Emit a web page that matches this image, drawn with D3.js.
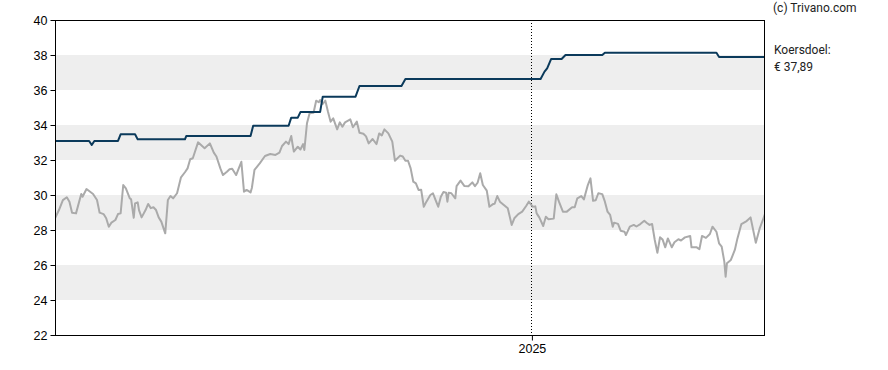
<!DOCTYPE html>
<html>
<head>
<meta charset="utf-8">
<script src="https://cdn.jsdelivr.net/npm/d3@7/dist/d3.min.js"></script>
<style>
html,body{margin:0;padding:0;background:#fff;}
svg{display:block;}
</style>
</head>
<body>
<svg id="chart" width="888" height="370"></svg>
<script>
// ---- data ----
const priceDates = ["2024-01-04","2024-01-07","2024-01-10","2024-01-13","2024-01-15","2024-01-17","2024-01-20","2024-01-24","2024-01-25","2024-01-28",
"2024-02-02","2024-02-05","2024-02-07","2024-02-10","2024-02-12","2024-02-14","2024-02-16","2024-02-19","2024-02-21","2024-02-23","2024-02-25","2024-02-27",
"2024-03-01","2024-03-02","2024-03-04","2024-03-05","2024-03-07","2024-03-08","2024-03-10","2024-03-13","2024-03-15","2024-03-17","2024-03-19","2024-03-21","2024-03-23","2024-03-25","2024-03-28","2024-03-30",
"2024-04-01","2024-04-03","2024-04-06","2024-04-09","2024-04-12","2024-04-14","2024-04-16","2024-04-18","2024-04-22","2024-04-27",
"2024-05-01","2024-05-04","2024-05-06","2024-05-09","2024-05-11","2024-05-14","2024-05-16","2024-05-18","2024-05-21","2024-05-24","2024-05-25","2024-05-27","2024-05-29",
"2024-06-01","2024-06-02","2024-06-04","2024-06-08","2024-06-12","2024-06-16","2024-06-20","2024-06-23","2024-06-25","2024-06-28","2024-06-30",
"2024-07-02","2024-07-03","2024-07-04","2024-07-07","2024-07-09","2024-07-11","2024-07-12","2024-07-14","2024-07-16","2024-07-19","2024-07-21","2024-07-23","2024-07-24","2024-07-26","2024-07-28","2024-07-30",
"2024-08-01","2024-08-03","2024-08-06","2024-08-08","2024-08-10","2024-08-12","2024-08-16","2024-08-18","2024-08-21","2024-08-23","2024-08-26","2024-08-28","2024-08-30",
"2024-09-02","2024-09-05","2024-09-07","2024-09-09","2024-09-11","2024-09-14","2024-09-17","2024-09-19","2024-09-23","2024-09-25","2024-09-27","2024-09-29",
"2024-10-01","2024-10-03","2024-10-05","2024-10-07","2024-10-09","2024-10-11","2024-10-13","2024-10-16","2024-10-18","2024-10-20","2024-10-22","2024-10-24","2024-10-26","2024-10-28","2024-10-29","2024-10-30",
"2024-11-01","2024-11-04","2024-11-05","2024-11-08","2024-11-11","2024-11-14","2024-11-17","2024-11-19","2024-11-21","2024-11-23","2024-11-25","2024-11-28","2024-11-30",
"2024-12-03","2024-12-04","2024-12-06","2024-12-08","2024-12-11","2024-12-14","2024-12-17","2024-12-19","2024-12-22","2024-12-25","2024-12-28","2024-12-30",
"2025-01-02","2025-01-04","2025-01-05","2025-01-07","2025-01-10","2025-01-12","2025-01-14","2025-01-18","2025-01-20","2025-01-22","2025-01-25","2025-01-28",
"2025-02-01","2025-02-03","2025-02-05","2025-02-08","2025-02-10","2025-02-13","2025-02-15","2025-02-17","2025-02-19","2025-02-21","2025-02-24","2025-02-26","2025-02-28",
"2025-03-02","2025-03-04","2025-03-05","2025-03-08","2025-03-10","2025-03-13","2025-03-14","2025-03-17","2025-03-20","2025-03-22","2025-03-25","2025-03-28","2025-03-30",
"2025-04-01","2025-04-03","2025-04-05","2025-04-07","2025-04-09","2025-04-11","2025-04-13","2025-04-15","2025-04-18","2025-04-20","2025-04-23","2025-04-25","2025-04-28",
"2025-05-02","2025-05-03","2025-05-07","2025-05-09","2025-05-11","2025-05-14","2025-05-17","2025-05-19","2025-05-22","2025-05-24","2025-05-26","2025-05-28","2025-05-29","2025-05-30",
"2025-06-02","2025-06-05","2025-06-07","2025-06-10","2025-06-14","2025-06-17","2025-06-21","2025-06-24","2025-06-28"];
const priceValues = [28.67,29.14,29.71,29.87,29.62,28.99,28.95,30.06,29.9,30.34,
30.06,29.71,28.99,28.91,28.67,28.19,28.42,28.57,28.91,28.95,30.57,30.38,
29.81,29.75,28.70,29.52,29.58,29.14,28.72,29.14,29.49,29.25,29.3,29.14,28.72,28.48,27.81,29.71,
29.94,29.81,30.1,31.01,31.3,31.52,32.04,32.1,33.01,32.67,
32.95,32.42,32.2,31.52,31.14,31.33,31.47,31.5,31.14,31.71,31.9,30.19,30.29,
30.15,30.4,31.43,31.81,32.23,32.34,32.29,32.42,32.8,33.05,32.91,
33.37,32.9,32.48,32.76,32.6,32.91,32.57,34.1,34.67,34.7,35.39,35.3,35.43,35.2,35.39,34.76,
34.19,34.38,33.75,34.15,33.9,34.15,34.32,33.87,34.19,33.56,33.5,33.35,32.95,
33.2,32.91,33.52,33.4,33.75,33.52,33.05,31.96,32.25,32.2,31.96,31.96,
31.52,30.76,30.67,30.29,30.3,29.33,29.62,30.0,30.1,29.71,29.33,29.9,30.17,30.13,29.62,30.13,
30.1,29.81,30.51,30.82,30.51,30.5,30.72,30.51,30.7,31.24,30.57,30.25,29.33,
29.49,29.5,29.94,29.62,29.43,29.24,28.29,28.67,28.91,29.05,29.37,29.62,
29.33,29.35,28.95,28.72,28.23,28.76,28.61,28.65,30.04,29.62,29.05,29.05,
29.3,29.3,29.81,29.94,29.75,30.57,30.95,29.67,29.7,30.1,30.05,29.62,29.05,
28.86,28.19,28.42,28.35,27.96,27.9,27.71,28.19,28.29,28.2,28.34,28.53,28.4,
28.29,28.34,27.43,26.7,27.58,27.45,27.01,27.52,27.01,27.3,27.47,27.4,27.58,
27.66,27.01,27.01,26.9,27.66,27.55,27.77,28.19,27.9,27.24,27.05,26.19,25.33,26.1,
26.29,26.86,27.52,28.34,28.51,28.72,27.27,28.1,28.91];

const targetDates = ["2024-01-04","2024-01-30","2024-02-01","2024-02-03","2024-02-21","2024-02-23","2024-03-05","2024-03-07","2024-04-12","2024-04-13",
"2024-06-01","2024-06-03","2024-06-30","2024-07-02","2024-07-07","2024-07-09","2024-07-24","2024-07-26","2024-08-20","2024-08-23","2024-09-24","2024-09-27",
"2025-01-08","2025-01-11","2025-01-13","2025-01-16","2025-01-24","2025-01-27","2025-02-24","2025-02-26","2025-05-22","2025-05-24","2025-06-28"];
const targetValues = [33.09,33.09,32.86,33.09,33.09,33.47,33.47,33.18,33.18,33.37,
33.37,33.96,33.96,34.42,34.42,34.74,34.74,35.62,35.62,36.23,36.23,36.63,
36.63,37.05,37.24,37.77,37.77,38.0,38.0,38.13,38.13,37.89,37.89];

const yTicks = [22,24,26,28,30,32,34,36,38,40];
const bandRanges = [[36,38],[32,34],[28,30],[24,26]];
const xTickDates = ["2025-01-01"];
const xTickLabels = ["2025"];
const dateRange = ["2024-01-04","2025-06-28"];
const copyright = "(c) Trivano.com";
const targetLabel = "Koersdoel:";
const targetText = "€ 37,89";

// ---- chart ----
const parse = d3.timeParse("%Y-%m-%d");
const svg = d3.select("#chart");
const m = {left:55, top:20, right:765, bottom:335};

const x = d3.scaleTime().domain(dateRange.map(parse)).range([m.left, m.right]);
const y = d3.scaleLinear().domain([22,40]).range([m.bottom, m.top]);

svg.append("defs").append("clipPath").attr("id","plot")
  .append("rect").attr("x",m.left).attr("y",m.top).attr("width",m.right-m.left).attr("height",m.bottom-m.top);

// bands
svg.append("g").selectAll("rect").data(bandRanges).join("rect")
  .attr("x", m.left).attr("width", m.right-m.left)
  .attr("y", d => y(d[1])).attr("height", d => y(d[0]) - y(d[1]))
  .attr("fill", "#eeeeee");

// dotted year line
svg.append("g").selectAll("line").data(xTickDates).join("line")
  .attr("x1", d => Math.round(x(parse(d)))+0.5).attr("x2", d => Math.round(x(parse(d)))+0.5)
  .attr("y1", m.top).attr("y2", m.bottom)
  .attr("stroke","#000").attr("stroke-width",1).attr("stroke-dasharray","1,2");

const g = svg.append("g").attr("clip-path","url(#plot)");

const price = priceDates.map((d,i) => ({d: parse(d), v: priceValues[i]}));
const target = targetDates.map((d,i) => ({d: parse(d), v: targetValues[i]}));
const line = d3.line().x(p => x(p.d)).y(p => y(p.v));

g.append("path").datum(price).attr("d", line)
  .attr("fill","none").attr("stroke","#aaaaaa").attr("stroke-width",2).attr("stroke-linejoin","round");
g.append("path").datum(target).attr("d", line)
  .attr("fill","none").attr("stroke","#0b3a5b").attr("stroke-width",2).attr("stroke-linejoin","round");

// frame
svg.append("rect").attr("x", m.left+0.5).attr("y", m.top+0.5)
  .attr("width", m.right-m.left-1).attr("height", m.bottom-m.top)
  .attr("fill","none").attr("stroke","#000").attr("stroke-width",1);

// y axis
const yAxis = d3.axisLeft(y).tickValues(yTicks).tickSize(5).tickPadding(3).tickFormat(d3.format("d"));
const ya = svg.append("g").attr("transform",`translate(${m.left+0.5},0)`).call(yAxis);
ya.select(".domain").remove();
ya.selectAll("text").attr("font-family","Liberation Sans, Arial, sans-serif").attr("font-size",12.5).attr("fill","#000");
ya.selectAll("line").attr("stroke","#000");

// x axis
const xAxis = d3.axisBottom(x).tickValues(xTickDates.map(parse)).tickSize(5).tickPadding(4)
  .tickFormat((d,i) => xTickLabels[i]);
const xa = svg.append("g").attr("transform",`translate(0.5,${m.bottom+0.5})`).call(xAxis);
xa.select(".domain").remove();
xa.selectAll("text").attr("font-family","Liberation Sans, Arial, sans-serif").attr("font-size",12.5).attr("fill","#000");
xa.selectAll("line").attr("stroke","#000");

// side texts
const side = svg.append("g").attr("font-family","Roboto, sans-serif").attr("font-size",12).attr("fill","#222");
side.append("text").attr("x",773).attr("y",12).text(copyright);
side.append("text").attr("x",774).attr("y",54).text(targetLabel);
side.append("text").attr("x",774).attr("y",71).text(targetText);
</script>
</body>
</html>
